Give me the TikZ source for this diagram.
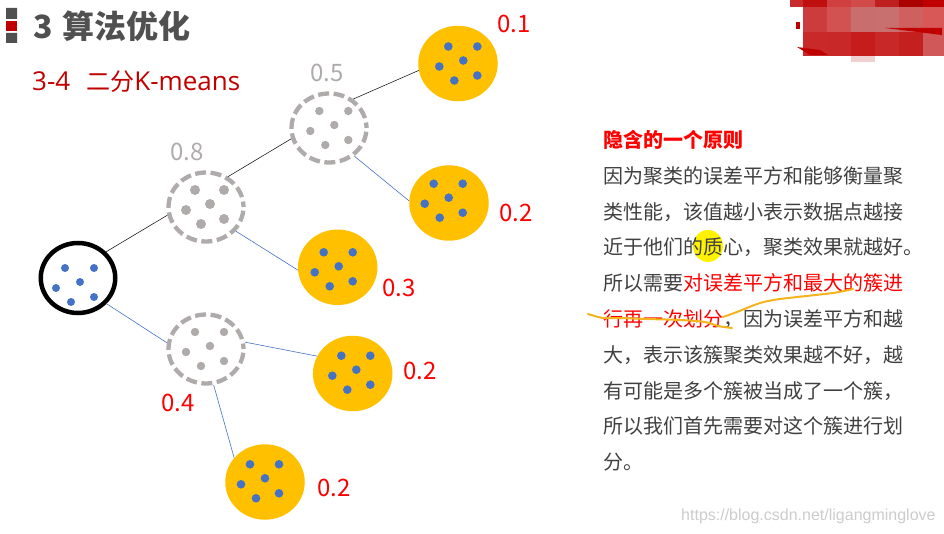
\documentclass[tikz,border=0pt]{standalone}
\usepackage{fontspec}
\setmainfont{Noto Sans CJK SC}
\newfontfamily\latinfont{Open Sans}
\newfontfamily\markfont{Liberation Sans}
\usetikzlibrary{shapes.geometric}
\definecolor{orangefill}{HTML}{FFC000}
\definecolor{penorange}{HTML}{F5B31E}
\definecolor{dotblue}{HTML}{4472C4}
\definecolor{dotgray}{HTML}{AFABAB}
\definecolor{titlegray}{HTML}{505050}
\definecolor{bodygray}{HTML}{404040}
\definecolor{subred}{HTML}{C00000}
\tikzset{
  rootnode/.style={ellipse, draw=black, line width=4.5pt, minimum width=74.5pt, minimum height=70pt, inner sep=0pt},
  splitnode/.style={ellipse, draw=dotgray, line width=4.3pt, dash pattern=on 11pt off 4.5pt, dash phase=5.5pt, minimum width=75pt, minimum height=69pt, inner sep=0pt},
  leafnode/.style={ellipse, fill=orangefill, minimum width=79.5pt, minimum height=75.5pt, inner sep=0pt},
  blackline/.style={black, line width=0.5pt},
  blueline/.style={dotblue, line width=0.6pt},
  redlabel/.style={text=red, font=\fontsize{24}{24}\selectfont, inner sep=0pt},
  graylabel/.style={text=dotgray, font=\fontsize{24}{24}\selectfont, inner sep=0pt},
  penstroke/.style={penorange, line width=2pt, line cap=round}
}
\begin{document}
\begin{tikzpicture}[x=1pt, y=-1pt]
  \useasboundingbox (0,0) rectangle (944,534);

  \fill[titlegray] (6,8) rectangle (17,19) (6,33) rectangle (17,43);
  \fill[subred] (6,21) rectangle (17,31);
  \node[anchor=west, text=titlegray, inner sep=0pt, font=\fontsize{32}{32}\selectfont\bfseries] (title) at (33,26) {3\hspace{9.5pt}算法优化};
  \node[anchor=west, text=subred, inner sep=0pt, font=\fontsize{24}{24}\selectfont] (subtitle) at (32,82) {{\latinfont\fontsize{26}{26}\selectfont 3-4}\hspace{16pt}二分{\latinfont\fontsize{26}{26}\selectfont K-means}};

  \foreach \xa/\xb/\ya/\yb/\col in {
    803/827/0/7/C00F0F, 827/851/0/7/D04040, 851/875/0/7/D24A4A, 875/899/0/7/BE2020, 899/923/0/7/AA0000, 923/944/0/7/BE0000,
    790/803/0/7/C82C2C,
    803/827/7/32/CC3C3C, 827/851/7/32/D25252, 851/875/7/32/C86E6E, 875/899/7/32/C87070, 899/923/7/32/CE6060, 923/944/7/32/D85858,
    803/827/32/56/C82A2A, 827/851/32/56/C82828, 851/875/32/56/C61C1C, 875/899/32/56/C82828, 899/923/32/56/C42020, 923/944/32/56/D05858,
    851/875/56/62/F0D0D0} {
    \definecolor{cellcol}{HTML}{\col}
    \fill[cellcol] (\xa,\yb) rectangle (\xb,\ya);
  }
  \fill[subred] (885,28) -- (942,28) -- (942,35) -- cycle;
  \fill[subred] (797,47) -- (820,50) -- (828,55) -- (810,55) -- cycle;
  \fill[subred] (796,22) rectangle (800,29);

  \node[rootnode] (root) at (78,278) {};
  \node[splitnode] (splitA) at (206,207) {};
  \node[splitnode] (splitB) at (206,349) {};
  \node[splitnode] (splitC) at (329,128) {};
  \node[leafnode] (leafA) at (458,63.5) {};
  \node[leafnode] (leafB) at (449,203) {};
  \node[leafnode] (leafC) at (337.7,267.3) {};
  \node[leafnode] (leafD) at (352.7,373.5) {};
  \node[leafnode] (leafE) at (265,482) {};

  \foreach \nd/\col/\rad/\ox/\oy in {root/dotblue/4/0/7, splitA/dotgray/5/2/0, splitB/dotgray/4.2/2/0, splitC/dotgray/4.2/3.3/0,
    leafA/dotblue/4.3/3.3/0, leafB/dotblue/4.3/-2.3/-2.3, leafC/dotblue/4.3/-1/2, leafD/dotblue/4.3/1.6/-0.8, leafE/dotblue/4.3/-2/-0.7}
    \foreach \dx/\dy in {-13/-17, 16/-17, 2/-3, -22/3, -7/17, 16/12}
      \fill[\col] ([shift={(\dx+\ox,\dy+\oy)}]\nd.center) circle (\rad);

  \draw[blackline] (root.43) -- (splitA.192);
  \draw[blueline] (root.-42) -- (splitB.171);
  \draw[blackline] (splitA.54) -- (splitC.196);
  \draw[blueline] (splitA.-39) -- (leafC.184);
  \draw[blackline] (splitC.50) -- (leafA.190);
  \draw[blueline] (splitC.-48) -- (leafB.177);
  \draw[blueline] (splitB.10) -- (leafD.154);
  \draw[blueline] (splitB.-78) -- (leafE.142);

  \node[redlabel] (valA) at (514,24) {0.1};
  \node[redlabel] (valB) at (516,213) {0.2};
  \node[redlabel] (valC) at (399,288) {0.3};
  \node[redlabel] (valD) at (420,371) {0.2};
  \node[redlabel] (valE) at (334,488) {0.2};
  \node[redlabel] (valF) at (178,403) {0.4};
  \node[graylabel] (valG) at (327,73) {0.5};
  \node[graylabel] (valH) at (187,152) {0.8};

  \fill[yellow] (708,246) ellipse (15 and 16);
  \node[anchor=north west, align=left, inner sep=0pt, text=bodygray, font=\fontsize{20}{35.8}\selectfont] (body) at (603,130) {%
    \textcolor{red}{\bfseries 隐含的一个原则}\\
    因为聚类的误差平方和能够衡量聚\\
    类性能，该值越小表示数据点越接\\
    近于他们的质心，聚类效果就越好。\\
    所以需要\textcolor{red}{对误差平方和最大的簇进}\\
    \textcolor{red}{行再一次划分}，因为误差平方和越\\
    大，表示该簇聚类效果越不好，越\\
    有可能是多个簇被当成了一个簇，\\
    所以我们首先需要对这个簇进行划\\
    分。};

  \draw[penstroke] plot[smooth] coordinates {(588,314) (603,318) (620,318) (647,319) (680,320) (705,322) (718,326) (732,328)};
  \draw[penstroke] plot[smooth, tension=0.4] coordinates {(723,317) (737,312) (760,303) (780,299) (833,293) (853,289)};

  \node[anchor=west, inner sep=0pt, text=black!20, font=\markfont\fontsize{16}{16}\selectfont] (mark) at (681,516.5) {https://blog.csdn.net/ligangminglove};
\end{tikzpicture}
\end{document}
